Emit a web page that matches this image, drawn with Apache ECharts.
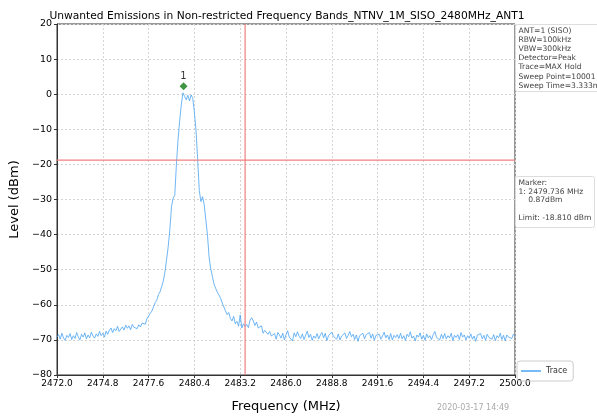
<!DOCTYPE html>
<html>
<head>
<meta charset="utf-8">
<script src="https://cdn.jsdelivr.net/npm/echarts@6/dist/echarts.min.js"></script>
<style>
  html, body { margin: 0; padding: 0; background: #fff; }
  #chart { width: 597px; height: 418px; }
</style>
</head>
<body>
<div id="chart"></div>
<script>
// sweep: 2472.0 .. 2500.0 MHz, 0.1 MHz per point
const freqStart = 2472.0;
const freqStep = 0.1;
const levels = [
  -69.2,-68.5,-69.8,-68.1,-69.5,-70.1,-68.7,-69.3,-68.2,-69.9,
  -68.8,-69.6,-67.9,-69.1,-70.0,-68.4,-69.2,-68.0,-69.7,-68.6,
  -69.4,-67.8,-68.9,-69.5,-68.3,-69.0,-67.6,-68.8,-68.1,-69.2,
  -67.5,-68.4,-67.2,-66.6,-67.9,-66.8,-67.4,-66.1,-67.6,-66.9,
  -66.3,-67.2,-65.8,-66.7,-66.0,-67.1,-65.6,-66.4,-65.9,-66.8,
  -65.7,-66.3,-65.2,-64.8,-65.5,-63.9,-63.2,-62.4,-61.8,-60.6,
  -59.4,-58.7,-57.1,-56.3,-54.8,-53.2,-50.6,-47.1,-43.4,-38.5,
  -32.0,-29.6,-28.8,-20.0,-13.0,-7.5,-3.0,0.4,-0.6,-1.6,
  -0.3,-1.9,-0.2,-1.2,-5.2,-10.4,-18.6,-27.5,-30.6,-29.2,
  -31.5,-35.8,-40.2,-46.5,-49.8,-51.9,-54.1,-55.3,-56.4,-57.2,
  -58.1,-59.5,-59.9,-61.7,-62.8,-62.2,-63.9,-64.6,-63.3,-65.4,
  -64.7,-66.1,-62.9,-66.6,-65.4,-66.2,-65.6,-66.5,-64.4,-63.7,
  -64.6,-65.9,-64.9,-66.6,-67.1,-66.0,-68.1,-67.3,-66.8,-68.4,
  -67.6,-68.9,-69.4,-68.2,-69.8,-67.9,-68.6,-69.5,-68.1,-70.0,
  -68.5,-67.4,-69.2,-68.8,-70.3,-68.0,-69.1,-67.7,-68.9,-69.6,
  -68.3,-69.9,-68.7,-67.5,-69.3,-68.4,-70.1,-68.9,-69.5,-68.2,
  -69.7,-68.6,-67.9,-69.4,-68.1,-70.2,-68.8,-69.3,-67.8,-69.0,
  -68.5,-69.8,-68.3,-70.0,-68.9,-69.4,-68.0,-69.6,-68.7,-67.6,
  -69.1,-68.4,-69.9,-68.6,-70.4,-68.8,-69.3,-68.1,-69.7,-68.5,
  -69.0,-67.9,-69.5,-68.3,-70.1,-68.7,-69.2,-68.4,-69.8,-68.9,
  -67.8,-69.4,-68.6,-69.9,-68.2,-70.0,-68.7,-69.3,-68.5,-69.6,
  -68.1,-69.7,-68.8,-70.2,-68.4,-69.1,-67.7,-69.5,-68.9,-70.3,
  -68.6,-69.2,-68.0,-69.8,-68.7,-70.1,-68.3,-69.4,-68.8,-69.9,
  -68.5,-67.6,-69.3,-68.9,-70.0,-68.4,-69.6,-68.2,-69.7,-68.8,
  -69.4,-68.1,-70.2,-68.7,-69.3,-68.5,-69.9,-67.9,-69.2,-68.6,
  -70.0,-68.8,-69.5,-68.3,-69.8,-68.9,-70.4,-68.6,-69.1,-68.2,
  -69.7,-68.7,-70.1,-68.4,-69.3,-68.9,-69.8,-68.5,-70.2,-68.8,
  -69.4,-68.1,-69.9,-68.7,-70.3,-68.6,-69.2,-68.9,-69.6,-68.4,
  -69.0
];
const markerFreq = 2479.736;
const markerLevel = 0.87;
const limitLevel = -18.81;
const bandEdge = 2483.5;
const infoLines = ["ANT=1 (SISO)", "RBW=100kHz", "VBW=300kHz", "Detector=Peak",
  "Trace=MAX Hold", "Sweep Point=10001", "Sweep Time=3.333ms"];
const markerLines = ["Marker:", "1: 2479.736 MHz", "    0.87dBm", "", "Limit: -18.810 dBm"];

const font = "DejaVu Sans";
const red = "#f08080";
const chart = echarts.init(document.getElementById("chart"));

// x axis runs in MHz offset from freqStart so the 2.8 MHz ticks line up
const trace = levels.map((v, i) => [i * freqStep, v]);

chart.setOption({
  animation: false,
  title: {
    text: "Unwanted Emissions in Non-restricted Frequency Bands_NTNV_1M_SISO_2480MHz_ANT1",
    left: 282, top: 6, textAlign: "center",
    textStyle: { fontFamily: font, fontSize: 10.7, fontWeight: "normal", color: "#000" }
  },
  grid: { left: 57, right: 82, top: 24, bottom: 40, show: true, borderColor: "#333", borderWidth: 1 },
  legend: {
    data: ["Trace"], left: 517, top: 361, orient: "vertical",
    icon: "rect", itemWidth: 20, itemHeight: 1.5, itemGap: 4,
    padding: [6, 6, 6, 4], borderColor: "#ccc", borderWidth: 1, borderRadius: 3,
    textStyle: { fontFamily: font, fontSize: 8, color: "#333" }
  },
  xAxis: {
    type: "value", min: 0, max: 28, interval: 2.8,
    name: "Frequency (MHz)", nameLocation: "middle", nameGap: 25,
    nameTextStyle: { fontFamily: font, fontSize: 13, color: "#000" },
    axisLine: { onZero: false, lineStyle: { color: "#333" } },
    axisTick: { show: true, length: 3, lineStyle: { color: "#333" } },
    axisLabel: { fontFamily: font, fontSize: 9, color: "#000", margin: 4,
      formatter: v => (v + freqStart).toFixed(1) },
    splitLine: { show: true, lineStyle: { color: "#d4d4d4", type: [2, 2] } }
  },
  yAxis: {
    type: "value", min: -80, max: 20, interval: 10,
    name: "Level (dBm)", nameLocation: "middle", nameGap: 32,
    nameTextStyle: { fontFamily: font, fontSize: 13, color: "#000" },
    axisLine: { show: true, lineStyle: { color: "#333" } },
    axisTick: { show: true, length: 3, lineStyle: { color: "#333" } },
    axisLabel: { fontFamily: font, fontSize: 9.5, color: "#000", margin: 5,
      formatter: v => String(v).replace("-", "\u2212") },
    splitLine: { show: true, lineStyle: { color: "#d4d4d4", type: [2, 2] } }
  },
  series: [
    {
      name: "Trace", type: "line", data: trace, symbol: "none",
      lineStyle: { color: "#4aa3f2", width: 0.8 },
      itemStyle: { color: "#4aa3f2" },
      z: 3
    },
    {
      name: "Limit", type: "line", symbol: "none", silent: true,
      data: [[0, limitLevel], [28, limitLevel]],
      lineStyle: { color: red, width: 1.2 }, z: 4
    },
    {
      name: "Band edge", type: "line", symbol: "none", silent: true,
      data: [[bandEdge - freqStart, -80], [bandEdge - freqStart, 20]],
      lineStyle: { color: red, width: 1.2 }, z: 4
    },
    {
      name: "Marker", type: "scatter", symbol: "diamond", symbolSize: 8,
      symbolOffset: [0, -5],
      data: [[markerFreq - freqStart, markerLevel]],
      itemStyle: { color: "#137a13" },
      label: { show: true, position: "top", formatter: "1", distance: 1,
        fontFamily: font, fontSize: 10, color: "#000" },
      z: 5
    }
  ],
  graphic: [
    {
      type: "group", left: 515, top: 24,
      children: [
        { type: "rect", shape: { x: 0, y: 0, width: 90, height: 67, r: 2 },
          style: { fill: "#fff", stroke: "#ddd", lineWidth: 1 } },
        { type: "text", x: 3, y: 2,
          style: { text: infoLines.join("\n"), font: "7.6px DejaVu Sans", lineHeight: 9.1, fill: "#444" } }
      ]
    },
    {
      type: "group", left: 515, top: 176,
      children: [
        { type: "rect", shape: { x: 0, y: 0, width: 79, height: 51, r: 2 },
          style: { fill: "#fff", stroke: "#ddd", lineWidth: 1 } },
        { type: "text", x: 3, y: 2,
          style: { text: markerLines.join("\n"), font: "7.6px DejaVu Sans", lineHeight: 8.8, fill: "#444" } }
      ]
    },
    {
      type: "text", left: 437, top: 404,
      style: { text: "2020-03-17 14:49", font: "8px DejaVu Sans", fill: "#aaa" }
    }
  ]
});
</script>
</body>
</html>
